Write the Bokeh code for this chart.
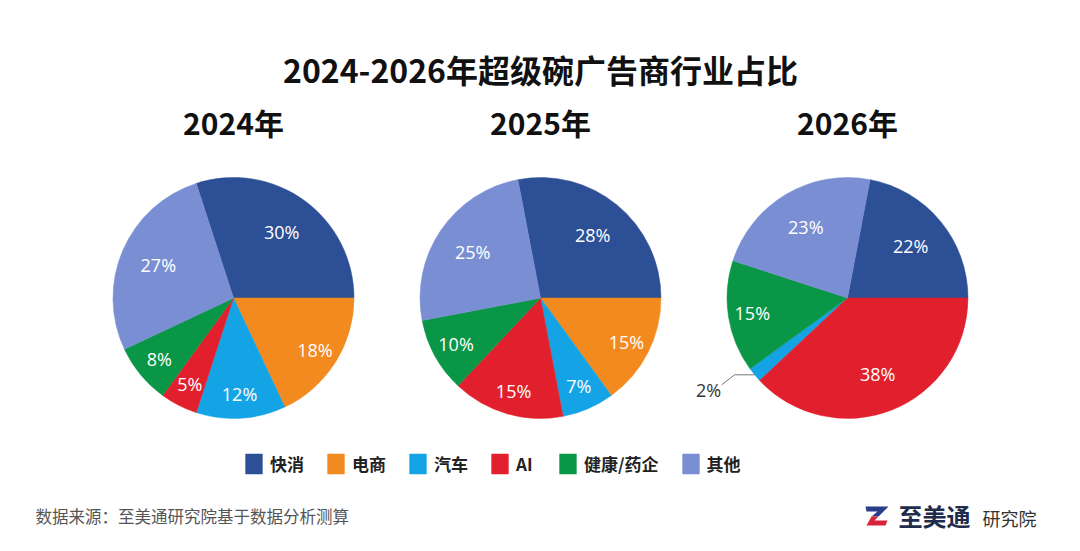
import math
from bokeh.plotting import figure
from bokeh.models import ColumnDataSource, Range1d, Legend, LegendItem
from bokeh.core.properties import value
from bokeh.embed import file_html
from bokeh.resources import INLINE

# ---------------- data ----------------
title_text = "2024-2026年超级碗广告商行业占比"
years = ["2024年", "2025年", "2026年"]
categories = ["快消", "电商", "汽车", "AI", "健康/药企", "其他"]
colors = ["#2D4F96", "#F28A1F", "#14A4E6", "#E2202D", "#0A9647", "#7A8FD3"]
share_2024 = [30, 18, 12, 5, 8, 27]
share_2025 = [28, 15, 7, 15, 10, 25]
share_2026 = [22, 0, 2, 38, 15, 23]
order_2024 = ["快消", "电商", "汽车", "AI", "健康/药企", "其他"]
order_2025 = ["快消", "电商", "汽车", "AI", "健康/药企", "其他"]
order_2026 = ["快消", "电商", "AI", "汽车", "健康/药企", "其他"]
source_note = "数据来源：至美通研究院基于数据分析测算"
brand = "至美通"
brand_sub = "研究院"

shares = [share_2024, share_2025, share_2026]
orders = [order_2024, order_2025, order_2026]

# ---------------- layout ----------------
W, H = 1064, 535
R = 120.5
CY = 237.5
GAP = 307
CXS = [540 + (i - 1) * GAP for i in range(3)]
FONT = "Noto Sans CJK SC"

p = figure(width=W, height=H, output_backend="svg", toolbar_location=None,
           x_range=Range1d(0, W), y_range=Range1d(0, H),
           x_axis_location=None, y_axis_location=None, min_border=0)
p.grid.visible = False
p.outline_line_color = None
p.background_fill_color = "white"
p.border_fill_color = "white"

# wedge geometry
wedge_rows = {c: dict(x=[], y=[], start=[], end=[]) for c in categories}
lab_in = dict(x=[], y=[], text=[])
lab_out = dict(x=[], y=[], text=[])
lead = dict(xs=[], ys=[])
for k in range(3):
    sh = dict(zip(categories, shares[k]))
    cx = CXS[k]
    top = sh[orders[k][0]] * 3.6
    cum = 0.0
    for c in orders[k]:
        s = sh[c]
        if s == 0:
            continue
        end = top - cum * 3.6
        start = top - (cum + s) * 3.6
        cum += s
        d = wedge_rows[c]
        d["x"].append(cx); d["y"].append(CY)
        d["start"].append(math.radians(start)); d["end"].append(math.radians(end))
        mid = math.radians((start + end) / 2)
        if s >= 3:
            f = 0.68 if s >= 20 else 0.8
            lab_in["x"].append(cx + f * R * math.cos(mid))
            lab_in["y"].append(CY + f * R * math.sin(mid))
            lab_in["text"].append(f"{s}%")
        else:
            ex = cx + R * math.cos(mid)
            ey = CY + R * math.sin(mid)
            lead["xs"].append([ex, ex - 20, ex - 33])
            lead["ys"].append([ey, ey, ey - 10])
            lab_out["x"].append(ex - 46)
            lab_out["y"].append(ey - 15)
            lab_out["text"].append(f"{s}%")

items = []
for c, col in zip(categories, colors):
    src = ColumnDataSource(wedge_rows[c])
    r = p.wedge(x="x", y="y", radius=R, start_angle="start", end_angle="end",
                source=src, fill_color=col, line_color=col, line_width=0.5)
    items.append(LegendItem(label=c, renderers=[r]))

p.text(x="x", y="y", text="text", source=ColumnDataSource(lab_in),
       text_color="white", text_font=value("Open Sans"), text_font_size="18px",
       text_align="center", text_baseline="middle")
p.multi_line(xs="xs", ys="ys", source=ColumnDataSource(lead),
             line_color="#555555", line_width=0.8)
p.text(x="x", y="y", text="text", source=ColumnDataSource(lab_out),
       text_color="#333333", text_font=value("Open Sans"), text_font_size="18px",
       text_align="center", text_baseline="middle")

# titles
p.text(x=[540], y=[467], text=[title_text], text_color="#111111",
       text_font=value(FONT), text_font_size="32px", text_font_style="bold",
       text_align="center", text_baseline="middle")
p.text(x=CXS, y=[CY + 176.5] * 3, text=years, text_color="#111111",
       text_font=value(FONT), text_font_size="30px", text_font_style="bold",
       text_align="center", text_baseline="middle")

# legend
legend = Legend(items=items, orientation="horizontal", location=(243, 59.5),
                padding=0, margin=0, spacing=21, label_standoff=6,
                glyph_width=21, glyph_height=25, label_height=25,
                label_text_font=FONT, label_text_font_size="17px",
                label_text_font_style="bold", label_text_color="#222222",
                border_line_color=None, background_fill_alpha=0)
p.add_layout(legend, "center")

# footer
p.text(x=[35], y=[20], text=[source_note], text_color="#555555",
       text_font=value(FONT), text_font_size="16.5px",
       text_align="left", text_baseline="middle")

# logo
LX, LY = 865, 29  # top-left of logo icon
blue_shape = [(0, 0), (23, 0), (13, -10), (6, -10), (12, -5), (1, -5)]
red_shape = [(6, -10), (13, -10), (9, -14), (22, -14), (20, -19), (1, -19)]
p.patches(xs=[[LX + a for a, b in blue_shape], [LX + a for a, b in red_shape]],
          ys=[[LY + b for a, b in blue_shape], [LY + b for a, b in red_shape]],
          fill_color=["#2B3E8C", "#D8243A"], line_color=None)
p.text(x=[898], y=[20], text=[brand], text_color="#1F2D4D",
       text_font=value(FONT), text_font_size="24px", text_font_style="bold",
       text_align="left", text_baseline="middle")
p.text(x=[982], y=[18], text=[brand_sub], text_color="#333333",
       text_font=value(FONT), text_font_size="18px",
       text_align="left", text_baseline="middle")

open("out.html", "w").write(file_html(p, INLINE))
